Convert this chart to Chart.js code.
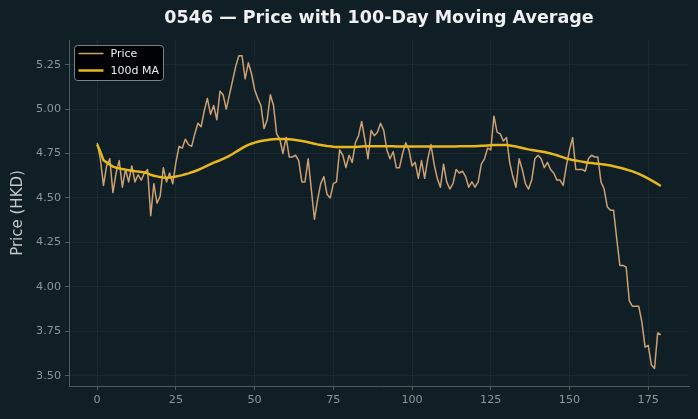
<!DOCTYPE html>
<html><head><meta charset="utf-8">
<script src="https://cdn.jsdelivr.net/npm/chart.js@4.4.1/dist/chart.umd.min.js"></script>
<style>html,body{margin:0;padding:0;background:#101f26;overflow:hidden}#wrap{width:698px;height:419px;position:relative}</style>
</head><body><div id="wrap"><canvas id="c" width="698" height="419"></canvas></div>
<script>
const titleText = "0546 \u2014 Price with 100-Day Moving Average";
const yLabel = "Price (HKD)";
const seriesNames = ["Price", "100d MA"];
const xTicks = [0, 25, 50, 75, 100, 125, 150, 175];
const yTicks = [3.50, 3.75, 4.00, 4.25, 4.50, 4.75, 5.00, 5.25];
const price = [
4.81,4.72,4.57,4.68,4.72,4.53,4.64,4.71,4.56,4.66,
4.59,4.68,4.59,4.63,4.60,4.64,4.66,4.40,4.58,4.47,
4.51,4.67,4.59,4.64,4.58,4.70,4.79,4.78,4.83,4.80,
4.79,4.86,4.92,4.90,4.99,5.06,4.97,5.02,4.94,5.10,
5.08,5.00,5.08,5.16,5.24,5.30,5.30,5.17,5.26,5.20,
5.11,5.06,5.02,4.89,4.94,5.08,5.02,4.86,4.83,4.75,
4.84,4.73,4.73,4.74,4.71,4.59,4.59,4.72,4.55,4.38,
4.49,4.58,4.62,4.52,4.50,4.58,4.59,4.77,4.74,4.67,
4.74,4.70,4.81,4.85,4.93,4.83,4.72,4.88,4.85,4.87,
4.92,4.88,4.77,4.72,4.76,4.67,4.67,4.75,4.81,4.77,
4.68,4.70,4.61,4.71,4.61,4.72,4.80,4.69,4.61,4.56,
4.69,4.59,4.55,4.58,4.66,4.64,4.65,4.62,4.56,4.59,
4.56,4.59,4.69,4.72,4.78,4.77,4.96,4.87,4.86,4.82,
4.84,4.70,4.62,4.56,4.72,4.66,4.58,4.55,4.60,4.72,
4.74,4.72,4.67,4.70,4.66,4.64,4.60,4.60,4.57,4.68,
4.77,4.84,4.66,4.66,4.66,4.65,4.72,4.74,4.73,4.73,
4.59,4.55,4.45,4.43,4.43,4.27,4.12,4.12,4.11,3.92,
3.89,3.89,3.89,3.80,3.66,3.67,3.56,3.54,3.74,3.73
];
const ma100 = [
4.800,4.760,4.712,4.700,4.688,4.676,4.670,4.666,4.662,4.659,
4.656,4.653,4.650,4.648,4.646,4.643,4.638,4.630,4.625,4.621,
4.617,4.615,4.614,4.615,4.617,4.620,4.624,4.628,4.633,4.638,
4.644,4.650,4.657,4.665,4.673,4.682,4.690,4.698,4.705,4.712,
4.720,4.728,4.737,4.747,4.758,4.769,4.780,4.790,4.798,4.805,
4.811,4.816,4.820,4.823,4.826,4.828,4.830,4.831,4.832,4.832,
4.831,4.830,4.828,4.826,4.823,4.820,4.817,4.813,4.809,4.805,
4.801,4.798,4.795,4.792,4.790,4.788,4.787,4.786,4.786,4.786,
4.786,4.786,4.787,4.788,4.789,4.790,4.790,4.790,4.791,4.791,
4.791,4.790,4.790,4.790,4.790,4.789,4.789,4.789,4.789,4.789,
4.789,4.789,4.789,4.789,4.789,4.789,4.789,4.789,4.789,4.789,
4.789,4.789,4.789,4.789,4.789,4.790,4.790,4.790,4.791,4.791,
4.791,4.792,4.793,4.794,4.795,4.796,4.797,4.798,4.798,4.798,
4.797,4.795,4.792,4.789,4.785,4.781,4.777,4.773,4.770,4.767,
4.764,4.761,4.758,4.754,4.750,4.745,4.740,4.734,4.728,4.722,
4.717,4.713,4.710,4.707,4.704,4.701,4.698,4.696,4.694,4.692,
4.690,4.688,4.685,4.682,4.678,4.674,4.670,4.665,4.660,4.655,
4.649,4.642,4.635,4.627,4.618,4.609,4.599,4.589,4.578,4.567
];
const days = price.map((_, i) => i);

const BG = '#101f26';
const PRICE_C = '#cca174';
const MA_C = '#e6b81e';
const GRID_C = 'rgba(255,255,255,0.045)';
const AXIS_C = '#4f5a5e';
const TICK_C = '#8c9599';
const FONT = "'DejaVu Sans', sans-serif";

const decor = {
  id: 'decor',
  beforeDraw(chart) {
    const ctx = chart.ctx;
    ctx.save();
    ctx.fillStyle = BG;
    ctx.fillRect(0, 0, chart.width, chart.height);
    ctx.restore();
  },
  afterDraw(chart) {
    const ctx = chart.ctx;
    const ca = chart.chartArea;
    ctx.save();
    ctx.fillStyle = '#f0f0f0';
    ctx.font = "bold 17.5px " + FONT;
    ctx.textAlign = 'center';
    ctx.textBaseline = 'middle';
    ctx.fillText(titleText, (ca.left + ca.right) / 2, 18);
    ctx.save();
    ctx.translate(18, (ca.top + ca.bottom) / 2);
    ctx.rotate(-Math.PI / 2);
    ctx.fillStyle = '#c3c9cb';
    ctx.font = "15px " + FONT;
    ctx.fillText(yLabel, 0, 0);
    ctx.restore();
    const lx = ca.left + 5.5, ly = ca.top + 5.5, lw = 89, lh = 35;
    ctx.beginPath();
    ctx.roundRect(lx, ly, lw, lh, 3);
    ctx.fillStyle = 'rgba(0,0,0,0.92)';
    ctx.fill();
    ctx.strokeStyle = '#7d8385';
    ctx.lineWidth = 1;
    ctx.stroke();
    const ds = chart.data.datasets;
    const rows = [ly + 8, ly + 25];
    ds.forEach((d, k) => {
      ctx.beginPath();
      ctx.moveTo(lx + 4, rows[k]);
      ctx.lineTo(lx + 29, rows[k]);
      ctx.strokeStyle = d.borderColor;
      ctx.lineWidth = d.borderWidth;
      ctx.stroke();
      ctx.fillStyle = '#ececec';
      ctx.font = "11px " + FONT;
      ctx.textAlign = 'left';
      ctx.textBaseline = 'middle';
      ctx.fillText(d.label, lx + 36, rows[k] + 0.5);
    });
    ctx.restore();
  }
};

new Chart(document.getElementById('c'), {
  type: 'line',
  data: {
    labels: days,
    datasets: [
      { label: seriesNames[0], data: price.map((v, i) => ({x: days[i], y: v})), borderColor: PRICE_C, borderWidth: 1.5, pointRadius: 0, tension: 0, order: 1, borderJoinStyle: 'round' },
      { label: seriesNames[1], data: ma100.map((v, i) => ({x: days[i], y: v})), borderColor: MA_C, borderWidth: 2.5, pointRadius: 0, tension: 0, order: 0, borderJoinStyle: 'round' }
    ]
  },
  options: {
    responsive: false,
    devicePixelRatio: 1,
    animation: false,
    layout: { padding: { top: 40, right: 9, left: 0, bottom: 0 } },
    plugins: { legend: { display: false }, title: { display: false }, tooltip: { enabled: false } },
    scales: {
      x: {
        type: 'linear', min: -8.95, max: 187.95,
        afterBuildTicks: s => { s.ticks = xTicks.map(v => ({value: v})); },
        afterFit: s => { s.height = 33; },
        grid: { color: GRID_C, tickColor: AXIS_C, tickLength: 4, drawTicks: true },
        border: { color: AXIS_C, width: 1 },
        ticks: { color: TICK_C, font: { family: FONT, size: 11.2 }, padding: 3, maxRotation: 0, callback: v => String(v) }
      },
      y: {
        type: 'linear', min: 3.4415, max: 5.3885,
        afterBuildTicks: s => { s.ticks = yTicks.map(v => ({value: v})); },
        afterFit: s => { s.width = 69; },
        grid: { color: GRID_C, tickColor: AXIS_C, tickLength: 4, drawTicks: true },
        border: { color: AXIS_C, width: 1 },
        ticks: { color: TICK_C, font: { family: FONT, size: 11.2 }, padding: 4, callback: v => Number(v).toFixed(2) }
      }
    }
  },
  plugins: [decor]
});
</script></body></html>
